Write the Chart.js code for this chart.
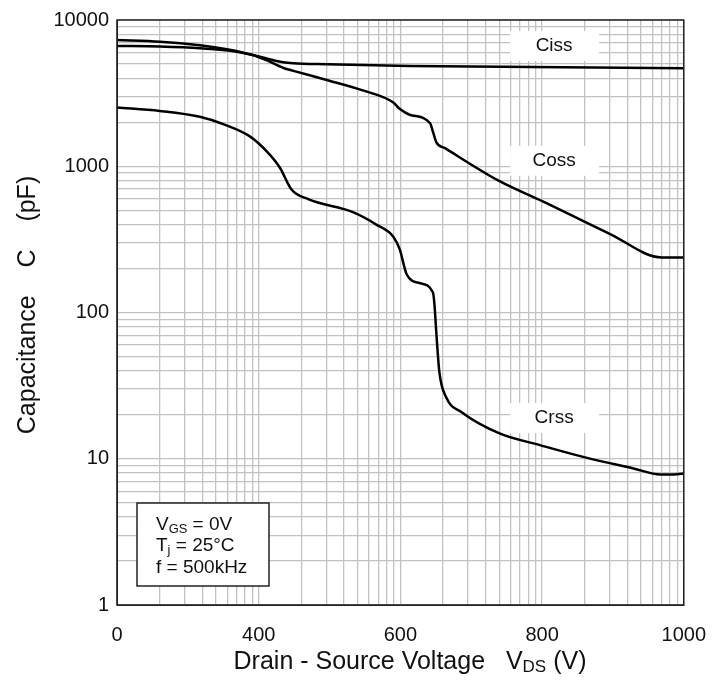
<!DOCTYPE html>
<html>
<head>
<meta charset="utf-8">
<script src="https://cdn.jsdelivr.net/npm/chart.js@4.4.0/dist/chart.umd.min.js"></script>
<style>
body { margin: 0; background: #fff; }
#wrap { width: 724px; height: 693px; }
</style>
</head>
<body>
<div id="wrap"><canvas id="cap"></canvas></div>
<script>
// values: drain-source voltage (V) -> capacitance (pF)
var ciss_v = [0, 121, 234, 338, 394, 425, 449, 496, 613, 1000]
var ciss_c = [6650, 6580, 6410, 6075, 5680, 5250, 5060, 4985, 4850, 4680]

var coss_v = [0, 121, 234, 310, 385, 411, 435, 449, 496, 547, 590, 599, 613, 642, 646, 651, 663, 740, 801, 896, 969, 1000]
var coss_c = [7300, 7110, 6720, 6310, 5740, 5310, 4700, 4490, 3890, 3300, 2730, 2470, 2250, 1970, 1720, 1450, 1330, 790, 575, 344, 238, 238]

var crss_v = [0, 121, 234, 300, 375, 413, 430, 446, 470, 533, 566, 590, 599, 609, 627, 646, 648, 651, 655, 665, 686, 740, 797, 858, 929, 967, 981, 1000]
var crss_c = [2520, 2390, 2180, 1940, 1600, 1240, 977, 697, 595, 485, 399, 330, 271, 182, 159, 137, 115, 69.7, 39.3, 26.1, 20.9, 14.9, 12.4, 10.3, 8.58, 7.8, 7.8, 7.93]

var x_labels = [0, 400, 600, 800, 1000]
var y_labels = [1, 10, 100, 1000, 10000]

var series_names = ['Ciss', 'Coss', 'Crss']
var label_v = [817, 817, 817]
var label_c = [6650, 1090, 19]

var font = "'Liberation Sans', Arial, sans-serif"

// the x axis is drawn as equal panels between the labelled voltages
function toFrac(v) {
    var n = x_labels.length - 1
    for (var i = 0; i < n; i++) {
        if (v <= x_labels[i+1] || i == n - 1) {
            return (i + (v - x_labels[i]) / (x_labels[i+1] - x_labels[i])) / n
        }
    }
}
function fromFrac(f) {
    var n = x_labels.length - 1
    var i = Math.min(n - 1, Math.max(0, Math.floor(f * n)))
    return x_labels[i] + (f * n - i) * (x_labels[i+1] - x_labels[i])
}

class PanelScale extends Chart.LinearScale {
    getPixelForValue(value) { return this.getPixelForDecimal(toFrac(value)) }
    getValueForPixel(pixel) { return fromFrac(this.getDecimalForPixel(pixel)) }
}
PanelScale.id = 'panel'
PanelScale.defaults = {}
Chart.register(PanelScale)

// log paper grid in every panel
var x_grid = []
for (var i = 0; i < x_labels.length - 1; i++) {
    for (var k = 1; k < 10; k++) {
        x_grid.push(x_labels[i] + (x_labels[i+1] - x_labels[i]) * Math.log10(k))
    }
}
x_grid.push(x_labels[x_labels.length - 1])

var y_grid = []
for (var d = 0; d < y_labels.length - 1; d++) {
    for (var k = 1; k < 10; k++) y_grid.push(k * y_labels[d])
}
y_grid.push(y_labels[y_labels.length - 1])

function pts(xs, ys) {
    return xs.map(function(x, i) { return {x: x, y: ys[i]} })
}

function richText(ctx, parts, x, y, size, align) {
    var w = 0
    parts.forEach(function(p) {
        ctx.font = (p[1] ? size * 0.68 : size) + 'px ' + font
        w += ctx.measureText(p[0]).width
    })
    var cx = align == 'center' ? x - w / 2 : x
    ctx.textAlign = 'left'
    ctx.textBaseline = 'middle'
    parts.forEach(function(p) {
        ctx.font = (p[1] ? size * 0.68 : size) + 'px ' + font
        ctx.fillText(p[0], cx, p[1] ? y + size * 0.22 : y)
        cx += ctx.measureText(p[0]).width
    })
}

var notes = {
    id: 'notes',
    beforeDatasetsDraw: function(chart) {
        var ctx = chart.ctx
        var xs = chart.scales.x, ys = chart.scales.y
        ctx.save()
        for (var i = 0; i < series_names.length; i++) {
            var px = xs.getPixelForValue(label_v[i])
            var py = ys.getPixelForValue(label_c[i])
            ctx.fillStyle = '#fff'
            ctx.fillRect(px - 44, py - 15, 89, 30)
            ctx.fillStyle = '#111'
            ctx.font = '19px ' + font
            ctx.textAlign = 'center'
            ctx.textBaseline = 'middle'
            ctx.fillText(series_names[i], px, py)
        }
        ctx.restore()
    },
    afterDraw: function(chart) {
        var ctx = chart.ctx
        var a = chart.chartArea
        ctx.save()
        ctx.strokeStyle = '#222'
        ctx.lineWidth = 1.5
        ctx.strokeRect(a.left, a.top, a.right - a.left, a.bottom - a.top)

        // test conditions box
        var bx = a.left + 20, by = a.bottom - 102
        ctx.fillStyle = '#fff'
        ctx.fillRect(bx, by, 132, 83)
        ctx.strokeRect(bx, by, 132, 83)
        ctx.fillStyle = '#111'
        richText(ctx, [['V', 0], ['GS', 1], [' = 0V', 0]], bx + 19, by + 22, 19, 'left')
        richText(ctx, [['T', 0], ['j', 1], [' = 25\u00b0C', 0]], bx + 19, by + 43, 19, 'left')
        richText(ctx, [['f = 500kHz', 0]], bx + 19, by + 65, 19, 'left')

        // axis titles
        richText(ctx, [['Drain - Source Voltage   V', 0], ['DS', 1], [' (V)', 0]], 410, 662, 25, 'center')
        ctx.translate(28, 305)
        ctx.rotate(-Math.PI / 2)
        richText(ctx, [['Capacitance    C    (pF)', 0]], 0, 0, 25, 'center')
        ctx.restore()
    }
}

var line_style = {
    borderColor: '#000',
    borderWidth: 2.5,
    pointRadius: 0,
    fill: false,
    cubicInterpolationMode: 'monotone'
}

var ctx = document.getElementById('cap').getContext('2d');
var chart = new Chart(ctx, {
    type: 'line',
    data: {
        datasets: [
            Object.assign({label: 'Ciss', data: pts(ciss_v, ciss_c)}, line_style),
            Object.assign({label: 'Coss', data: pts(coss_v, coss_c)}, line_style),
            Object.assign({label: 'Crss', data: pts(crss_v, crss_c)}, line_style)
        ]
    },
    options: {
        responsive: true,
        maintainAspectRatio: false,
        animation: false,
        layout: { padding: { top: 19, right: 40, left: 0, bottom: 0 } },
        plugins: { legend: { display: false }, tooltip: { enabled: false } },
        scales: {
            x: {
                type: 'panel',
                min: 0,
                max: 1000,
                afterBuildTicks: function(axis) { axis.ticks = x_grid.map(function(v) { return {value: v} }) },
                afterFit: function(axis) { axis.height = 88 },
                grid: { color: '#c2c2c2', lineWidth: 1.3, drawTicks: false },
                border: { color: '#222' },
                ticks: {
                    autoSkip: false,
                    maxRotation: 0,
                    padding: 18,
                    color: '#111',
                    font: { family: font, size: 20 },
                    callback: function(v) {
                        for (var i = 0; i < x_labels.length; i++) {
                            if (Math.abs(v - x_labels[i]) < 0.01) return String(x_labels[i])
                        }
                        return ''
                    }
                }
            },
            y: {
                type: 'logarithmic',
                min: 1,
                max: 10000,
                afterBuildTicks: function(axis) { axis.ticks = y_grid.map(function(v) { return {value: v} }) },
                afterFit: function(axis) { axis.width = 117 },
                grid: { color: '#c2c2c2', lineWidth: 1.3, drawTicks: false },
                border: { color: '#222' },
                ticks: {
                    autoSkip: false,
                    padding: 8,
                    color: '#111',
                    font: { family: font, size: 20 },
                    callback: function(v) {
                        return y_labels.indexOf(v) >= 0 ? String(v) : ''
                    }
                }
            }
        }
    },
    plugins: [notes]
});
</script>
</body>
</html>
